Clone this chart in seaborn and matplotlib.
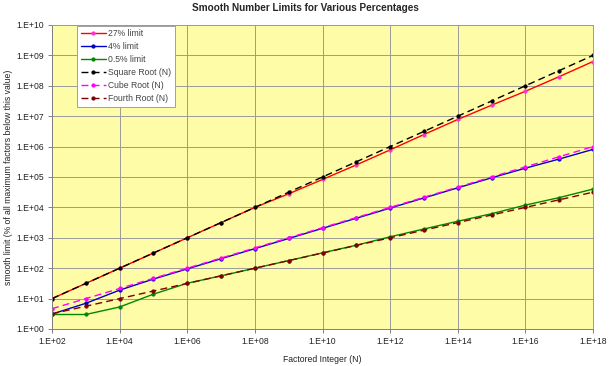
import numpy as np
import pandas as pd
import matplotlib
matplotlib.use('Agg')
import matplotlib.pyplot as plt
import seaborn as sns
from matplotlib.ticker import FuncFormatter, FixedLocator, NullLocator

# ========= Данные =========
n_values = [1e2, 1e3, 1e4, 1e5, 1e6, 1e7, 1e8, 1e9, 1e10, 1e11, 1e12,
            1e13, 1e14, 1e15, 1e16, 1e17, 1e18]

limit_27 = [1.0e1, 3.16e1, 1.0e2, 3.16e2, 1.0e3, 3.16e3, 1.0e4, 2.8e4, 8.3e4,
            2.5e5, 7.8e5, 2.5e6, 7.8e6, 2.3e7, 6.6e7, 2.0e8, 6.3e8]
limit_4 = [3.1, 7.0, 19, 44, 95, 205, 440, 950, 2050, 4400, 9500,
           2.05e4, 4.4e4, 9.4e4, 1.95e5, 3.9e5, 8.1e5]
limit_05 = [3.0, 3.0, 5.3, 14, 32, 56, 100, 178, 320, 570, 1080,
            1950, 3500, 6200, 1.19e4, 2.1e4, 4.0e4]
square_root = [1.0e1, 3.16e1, 1.0e2, 3.16e2, 1.0e3, 3.16e3, 1.0e4, 3.16e4, 1.0e5,
               3.16e5, 1.0e6, 3.16e6, 1.0e7, 3.16e7, 1.0e8, 3.16e8, 1.0e9]
cube_root = [4.64, 1.0e1, 2.15e1, 4.64e1, 1.0e2, 2.15e2, 4.64e2, 1.0e3, 2.15e3,
             4.64e3, 1.0e4, 2.15e4, 4.64e4, 1.0e5, 2.15e5, 4.64e5, 1.0e6]
fourth_root = [3.16, 5.62, 1.0e1, 1.78e1, 3.16e1, 5.62e1, 1.0e2, 1.78e2, 3.16e2,
               5.62e2, 1.0e3, 1.78e3, 3.16e3, 5.62e3, 1.0e4, 1.78e4, 3.16e4]

x_ticks = [1e2, 1e4, 1e6, 1e8, 1e10, 1e12, 1e14, 1e16, 1e18]
y_ticks = [1e0, 1e1, 1e2, 1e3, 1e4, 1e5, 1e6, 1e7, 1e8, 1e9, 1e10]

# (подпись, значения, цвет линии, цвет маркера, стиль)
series = [
    ('27% limit', limit_27, '#FF0000', '#FF33CC', '-'),
    ('4% limit', limit_4, '#0000CC', '#0000CC', '-'),
    ('0.5% limit', limit_05, '#008800', '#008800', '-'),
    ('Square Root (N)', square_root, '#000000', '#000000', (0, (5, 3))),
    ('Cube Root (N)', cube_root, '#FF00FF', '#FF00FF', (0, (5, 3))),
    ('Fourth Root (N)', fourth_root, '#800000', '#800000', (0, (5, 3))),
]

sns.set_style('white')
plt.rcParams['font.family'] = ['Liberation Sans', 'DejaVu Sans']

fig = plt.figure(figsize=(6.11, 3.66), dpi=100)
ax = fig.add_axes([52 / 611, 1 - 329 / 366, 541 / 611, 304 / 366])
ax.set_facecolor('#FFFCA8')

for label, vals, color, mcolor, ls in series:
    sns.lineplot(x=n_values, y=vals, ax=ax, color=color, linestyle=ls,
                 linewidth=1.0, marker='o', markersize=2.3,
                 markerfacecolor=mcolor, markeredgecolor=mcolor,
                 label=label, sort=False)

ax.set_xscale('log')
ax.set_yscale('log')
ax.set_xlim(1e2, 1e18)
ax.set_ylim(1e0, 1e10)

fmt = FuncFormatter(lambda v, pos: f'1.E+{int(round(np.log10(v))):02d}')
ax.xaxis.set_major_locator(FixedLocator(x_ticks))
ax.yaxis.set_major_locator(FixedLocator(y_ticks))
ax.xaxis.set_minor_locator(NullLocator())
ax.yaxis.set_minor_locator(NullLocator())
ax.xaxis.set_major_formatter(fmt)
ax.yaxis.set_major_formatter(fmt)

ax.grid(True, color='#9A9A9A', linewidth=0.7)
ax.tick_params(axis='both', which='major', direction='out', length=3,
               width=0.7, color='#808080', labelsize=6.2, labelcolor='#222222',
               left=True, bottom=True, pad=3)
for side in ['left', 'bottom', 'top', 'right']:
    ax.spines[side].set_color('#9A9A9A')
    ax.spines[side].set_linewidth(0.7)
ax.spines['left'].set_color('#808080')
ax.spines['bottom'].set_color('#808080')

ax.set_xlabel('Factored Integer (N)', fontsize=6.2, color='#222222', labelpad=6)
ax.set_ylabel('smooth limit (% of all maximum factors below this value)',
              fontsize=6.2, color='#222222')
ax.yaxis.set_label_coords(-0.072, 0.5)
fig.text(0.5, 1 - 8 / 366, 'Smooth Number Limits for Various Percentages',
         ha='center', va='center', fontsize=7.2, fontweight='bold')

leg = ax.legend(loc='upper left', bbox_to_anchor=(0.046, 0.998),
                borderaxespad=0, fontsize=6.2, frameon=True, fancybox=False,
                framealpha=1, edgecolor='#A0A0A0', handlelength=2.9,
                handletextpad=0.3, labelspacing=0.45, borderpad=0.45)
leg.get_frame().set_linewidth(0.7)
for t in leg.get_texts():
    t.set_color('#444444')

fig.savefig('out.png', dpi=100, facecolor='white')
